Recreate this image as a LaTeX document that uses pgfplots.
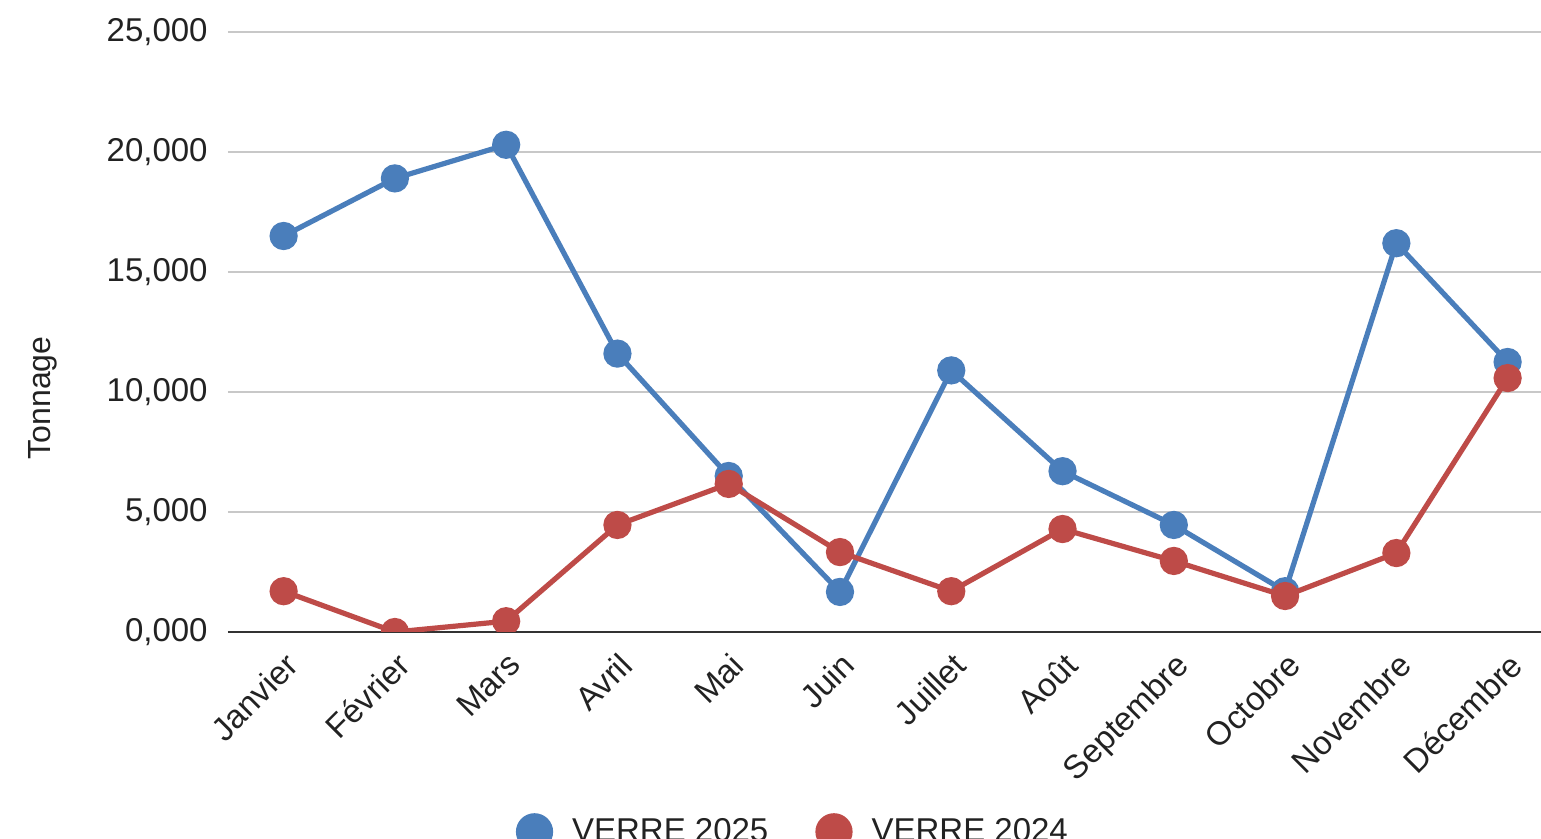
\documentclass[border=0pt]{standalone}
\usepackage{fontspec}
\setmainfont{Liberation Sans}
\usepackage{pgfplots}
\pgfplotsset{compat=1.18}
\definecolor{cblue}{HTML}{4A7EBB}
\definecolor{cred}{HTML}{BE4B48}
\definecolor{cgrid}{HTML}{C8C8C8}
\definecolor{caxis}{HTML}{333333}
\definecolor{ctext}{HTML}{222222}
\begin{document}
\begin{tikzpicture}
\useasboundingbox (-114pt,-103.5pt) rectangle (656.5pt,316pt);
\begin{axis}[
  at={(0pt,0pt)}, anchor=south west,
  scale only axis,
  width=656.5pt, height=300pt,
  xmin=-0.5, xmax=11.3,
  ymin=0, ymax=25000,
  xtick={0,...,11},
  xticklabels={Janvier,Février,Mars,Avril,Mai,Juin,Juillet,Août,Septembre,Octobre,Novembre,Décembre},
  ytick={0,5000,10000,15000,20000,25000},
  yticklabels={{0,000},{5,000},{10,000},{15,000},{20,000},{25,000}},
  scaled y ticks=false,
  major tick length=0pt,
  axis x line=bottom, axis y line=left,
  x axis line style={-, draw=caxis, line width=1pt},
  y axis line style={draw=none},
  ymajorgrids, grid style={cgrid, line width=1pt},
  tick label style={font=\fontsize{16.5}{18}\selectfont, text=ctext},
  yticklabel style={anchor=east, inner sep=0pt, xshift=-10pt},
  xticklabel style={rotate=45, anchor=north east, inner sep=0pt, xshift=-6.5pt, yshift=-6.5pt},
  ylabel={Tonnage},
  ylabel style={at={(axis description cs:-0.1410,0.39)}, anchor=center, font=\fontsize{16}{18}\selectfont, text=ctext},
  clip marker paths=true,
  legend style={at={(axis description cs:0.431,-0.333)}, anchor=center, draw=none, fill=none,
    font=\fontsize{16.5}{18}\selectfont, text=ctext,
    /tikz/every odd column/.append style={column sep=7.5pt},
    /tikz/every even column/.append style={column sep=21.5pt}},
  legend columns=2,
  legend image code/.code={\fill[#1] (8pt,0pt) circle (8pt);},
]
\addplot[color=cblue, line width=2.6pt, mark=*, mark size=5.75pt] coordinates {
  (0,16500) (1,18900) (2,20300) (3,11600) (4,6500) (5,1670)
  (6,10900) (7,6700) (8,4460) (9,1700) (10,16200) (11,11250)
};
\addlegendentry{VERRE 2025}
\addplot[color=cred, line width=2.6pt, mark=*, mark size=5.75pt] coordinates {
  (0,1700) (1,0) (2,450) (3,4460) (4,6170) (5,3330)
  (6,1700) (7,4290) (8,2960) (9,1500) (10,3290) (11,10580)
};
\addlegendentry{VERRE 2024}
\end{axis}
\end{tikzpicture}
\end{document}
